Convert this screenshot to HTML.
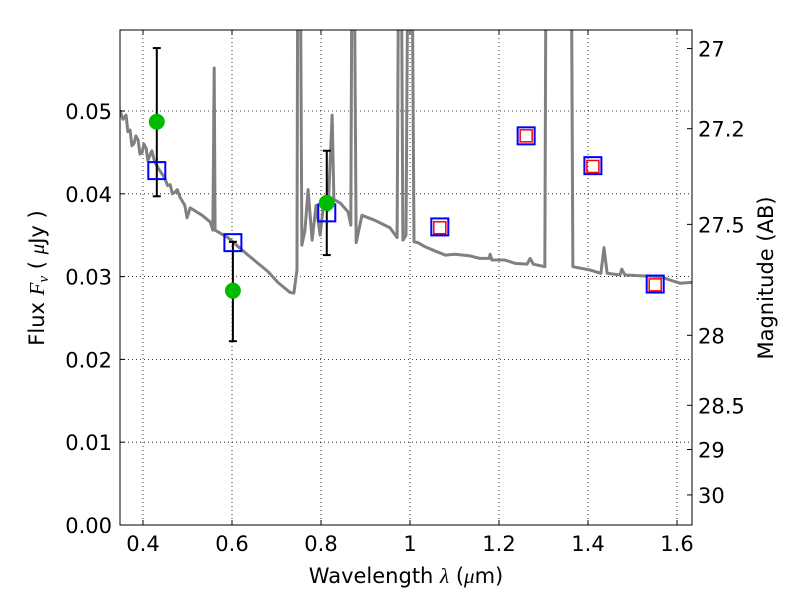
<!DOCTYPE html>
<html><head><meta charset="utf-8"><style>
body{margin:0;background:#fff;}
svg{display:block;font-family:"DejaVu Sans","Liberation Sans",sans-serif;}
</style></head><body>
<svg id="chart" width="800" height="600" viewBox="0 0 800 600" xmlns="http://www.w3.org/2000/svg">
<rect width="800" height="600" fill="#fff"/>
<defs><clipPath id="pc"><rect x="120" y="30" width="572" height="495"/></clipPath></defs>
<g id="grid"></g>
<g id="spec" clip-path="url(#pc)"></g>
<g id="marks"></g>
<rect x="120" y="30" width="572" height="495" fill="none" stroke="#000" stroke-width="1"/>
<g id="axes"></g>
<text x="406" y="583" text-anchor="middle" font-size="21">Wavelength  <tspan font-style="italic" font-family="Liberation Serif,serif">λ</tspan> (<tspan font-style="italic" font-family="Liberation Serif,serif">μ</tspan>m)</text>
<text transform="translate(44,278) rotate(-90)" text-anchor="middle" font-size="21">Flux  <tspan font-style="italic" font-family="Liberation Serif,serif">F</tspan><tspan font-style="italic" font-family="Liberation Serif,serif" font-size="15" dy="4">ν</tspan><tspan dy="-4">  (  </tspan><tspan font-style="italic" font-family="Liberation Serif,serif">μ</tspan>Jy )</text>
<text transform="translate(773,278) rotate(-90)" text-anchor="middle" font-size="21">Magnitude (AB)</text>
</svg>
<script>
const wave=[0.348,0.355,0.362,0.366,0.371,0.375,0.380,0.384,0.389,0.393,0.398,0.402,0.407,0.411,0.416,0.420,0.425,0.429,0.434,0.449,0.455,0.461,0.466,0.472,0.477,0.483,0.494,0.499,0.506,0.533,0.551,0.557,0.560,0.562,0.591,0.636,0.681,0.703,0.730,0.739,0.746,0.748,0.753,0.757,0.764,0.771,0.780,0.789,0.798,0.807,0.816,0.825,0.829,0.843,0.861,0.867,0.870,0.874,0.879,0.892,0.921,0.955,0.971,0.975,0.980,0.984,0.991,0.996,1.004,1.009,1.018,1.034,1.056,1.079,1.101,1.135,1.157,1.178,1.180,1.184,1.213,1.236,1.263,1.270,1.277,1.303,1.306,1.362,1.366,1.404,1.429,1.436,1.443,1.472,1.476,1.483,1.517,1.562,1.589,1.607,1.634];
const flux=[0.0501,0.0490,0.0495,0.0475,0.0477,0.0458,0.0461,0.0470,0.0465,0.0448,0.0450,0.0460,0.0455,0.0440,0.0447,0.0452,0.0441,0.0436,0.0431,0.0419,0.0410,0.0411,0.0400,0.0402,0.0405,0.0396,0.0386,0.0371,0.0383,0.0374,0.0366,0.0356,0.0552,0.0356,0.0347,0.0326,0.0306,0.0293,0.0281,0.0280,0.0308,0.0755,0.0755,0.0338,0.0356,0.0405,0.0344,0.0386,0.0350,0.0393,0.0380,0.0495,0.0393,0.0389,0.0378,0.0362,0.0755,0.0755,0.0341,0.0374,0.0368,0.0359,0.0347,0.0755,0.0755,0.0344,0.0350,0.0755,0.0755,0.0342,0.0341,0.0336,0.0331,0.0326,0.0327,0.0325,0.0322,0.0322,0.0327,0.0320,0.0320,0.0316,0.0315,0.0322,0.0315,0.0312,0.0755,0.0755,0.0312,0.0308,0.0304,0.0335,0.0304,0.0302,0.0309,0.0302,0.0301,0.0300,0.0295,0.0292,0.0293];
const obsWave=[0.431,0.602,0.813];
const obsFlux=[0.0487,0.0283,0.0389];
const obsLo=[0.0397,0.0222,0.0326];
const obsHi=[0.0576,0.0342,0.0452];
const modWave=[0.431,0.602,0.813,1.067,1.261,1.411,1.551];
const modFlux=[0.0428,0.0341,0.0377,0.0360,0.0470,0.0434,0.0291];
const redWave=[1.067,1.261,1.411,1.551];
const redFlux=[0.0359,0.0470,0.0433,0.0290];
const xTicks=[0.4,0.6,0.8,1.0,1.2,1.4,1.6];
const xLabels=["0.4","0.6","0.8","1","1.2","1.4","1.6"];
const yTicks=[0,0.01,0.02,0.03,0.04,0.05];
const yLabels=["0.00","0.01","0.02","0.03","0.04","0.05"];
const magTicks=[27,27.2,27.5,28,28.5,29,30];
const magLabels=["27","27.2","27.5","28","28.5","29","30"];

const X=v=>143+(v-0.4)*445;
const Y=v=>525-v*8280;
const NS="http://www.w3.org/2000/svg";
function mk(tag,attrs,parent){const e=document.createElementNS(NS,tag);for(const k in attrs)e.setAttribute(k,attrs[k]);parent.appendChild(e);return e;}
const grid=document.getElementById('grid'),spec=document.getElementById('spec'),marks=document.getElementById('marks'),axes=document.getElementById('axes');

xTicks.forEach((t,i)=>{
  const g=mk('line',{x1:X(t),x2:X(t),y1:30,y2:525,stroke:'#000','stroke-width':0.8,'stroke-dasharray':'1,3'},grid);
  
  
  mk('line',{x1:X(t),x2:X(t),y1:525,y2:520,stroke:'#000'},axes);
  mk('line',{x1:X(t),x2:X(t),y1:30,y2:35,stroke:'#000'},axes);
  const l=mk('text',{x:X(t),y:551,'text-anchor':'middle','font-size':21},axes);
  l.textContent=xLabels[i];
  
  
});
yTicks.forEach((t,i)=>{
  if(t>0){const g=mk('line',{x1:120,x2:692,y1:Y(t),y2:Y(t),stroke:'#000','stroke-width':0.8,'stroke-dasharray':'1,3'},grid);
  
  }
  mk('line',{x1:120,x2:125,y1:Y(t),y2:Y(t),stroke:'#000'},axes);
  const l=mk('text',{x:112,y:Y(t)+8,'text-anchor':'end','font-size':21},axes);
  l.textContent=yLabels[i];
  
  
});
magTicks.forEach((m,i)=>{
  const y=Y(Math.pow(10,(23.9-m)/2.5));
  mk('line',{x1:687,x2:692,y1:y,y2:y,stroke:'#000'},axes);
  const l=mk('text',{x:698,y:y+8,'font-size':21},axes);
  l.textContent=magLabels[i];
  
  
});

const p=mk('polyline',{points:wave.map((w,i)=>X(w)+','+Y(flux[i])).join(' '),fill:'none',stroke:'#808080','stroke-width':3,'stroke-linejoin':'round'},spec);



obsWave.forEach((w,i)=>{
  const x=X(w);
  const e=mk('g',{},marks);
  
  
  mk('line',{x1:x,x2:x,y1:Y(obsHi[i]),y2:Y(obsLo[i]),stroke:'#000','stroke-width':2},e);
  mk('line',{x1:x-4,x2:x+4,y1:Y(obsHi[i]),y2:Y(obsHi[i]),stroke:'#000','stroke-width':2},e);
  mk('line',{x1:x-4,x2:x+4,y1:Y(obsLo[i]),y2:Y(obsLo[i]),stroke:'#000','stroke-width':2},e);
});
modWave.forEach((w,i)=>{
  const s=mk('rect',{x:X(w)-8.5,y:Y(modFlux[i])-8.5,width:17,height:17,fill:'none',stroke:'#0000ff','stroke-width':2},marks);
  
  
});
redWave.forEach((w,i)=>{
  const s=mk('rect',{x:X(w)-6,y:Y(redFlux[i])-6,width:12,height:12,fill:'none',stroke:'#ff0000','stroke-width':1.5},marks);
  
  
});
obsWave.forEach((w,i)=>{
  const c=mk('circle',{cx:X(w),cy:Y(obsFlux[i]),r:8,fill:'#00bb00'},marks);
  
  
});
</script>
</body></html>
